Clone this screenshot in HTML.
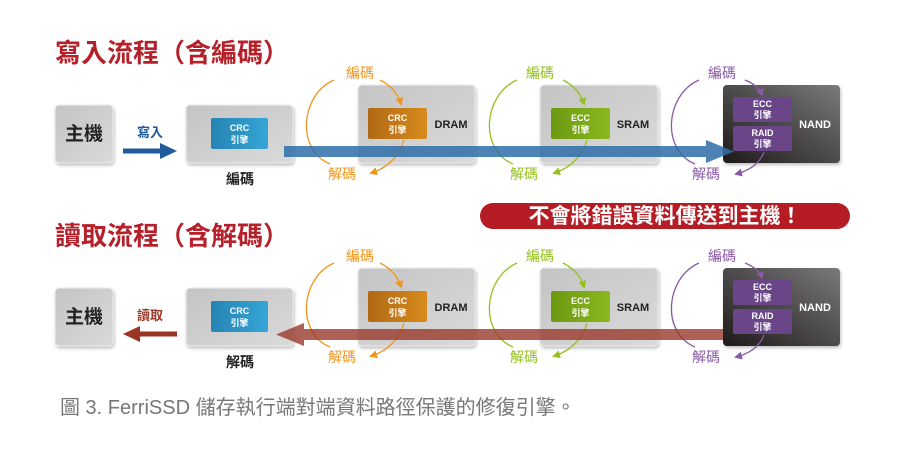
<!DOCTYPE html>
<html><head><meta charset="utf-8"><style>
html,body{margin:0;padding:0;background:#fff;}
svg{display:block;font-family:"Liberation Sans","Noto Sans CJK TC",sans-serif;}
</style></head><body>
<svg width="900" height="456" viewBox="0 0 900 456" xmlns="http://www.w3.org/2000/svg">
<defs>
<linearGradient id="gbox" x1="0" y1="0" x2="1" y2="1"><stop offset="0" stop-color="#c4c4c4"/><stop offset="1" stop-color="#dadada"/></linearGradient>
<linearGradient id="gnand" x1="0" y1="1" x2="1" y2="0"><stop offset="0" stop-color="#1e1a1a"/><stop offset="1" stop-color="#7a7a7a"/></linearGradient>
<linearGradient id="gblue" x1="0" y1="0" x2="1" y2="0"><stop offset="0" stop-color="#2684b4"/><stop offset="1" stop-color="#34a6d6"/></linearGradient>
<linearGradient id="gor" x1="0" y1="0" x2="1" y2="0"><stop offset="0" stop-color="#b06a14"/><stop offset="1" stop-color="#d88a1c"/></linearGradient>
<linearGradient id="ggr" x1="0" y1="0" x2="1" y2="0"><stop offset="0" stop-color="#6c9812"/><stop offset="1" stop-color="#8ab81e"/></linearGradient>
<filter id="sh" x="-10%" y="-10%" width="130%" height="130%"><feDropShadow dx="1" dy="2" stdDeviation="1.5" flood-color="#000" flood-opacity="0.25"/></filter>
<marker id="ao" markerWidth="8" markerHeight="8" refX="6" refY="4" orient="auto" markerUnits="userSpaceOnUse"><path d="M0,0 L8,4 L0,8 z" fill="#f0961e"/></marker>
<marker id="ag" markerWidth="8" markerHeight="8" refX="6" refY="4" orient="auto" markerUnits="userSpaceOnUse"><path d="M0,0 L8,4 L0,8 z" fill="#94c11e"/></marker>
<marker id="ap" markerWidth="8" markerHeight="8" refX="6" refY="4" orient="auto" markerUnits="userSpaceOnUse"><path d="M0,0 L8,4 L0,8 z" fill="#8a5aa6"/></marker>
<g id="row">
  <rect x="55" y="105" width="58" height="58" rx="4" fill="url(#gbox)" stroke="#eee" filter="url(#sh)"/>
  <text x="84" y="140" text-anchor="middle" font-size="19" font-weight="bold" fill="#222">主機</text>
  <rect x="186" y="105" width="107" height="58" rx="4" fill="url(#gbox)" stroke="#eee" filter="url(#sh)"/>
  <rect x="211" y="118" width="57" height="31" rx="2" fill="url(#gblue)"/>
  <text x="239.5" y="131" text-anchor="middle" font-size="9" font-weight="bold" fill="#fff">CRC</text>
  <text x="239.5" y="143" text-anchor="middle" font-size="9" font-weight="bold" fill="#fff">引擎</text>
  <rect x="358" y="85" width="117" height="78" rx="4" fill="url(#gbox)" stroke="#eee" filter="url(#sh)"/>
  <rect x="368" y="108" width="59" height="31" rx="2" fill="url(#gor)"/>
  <text x="397.5" y="121" text-anchor="middle" font-size="9" font-weight="bold" fill="#fff">CRC</text>
  <text x="397.5" y="133" text-anchor="middle" font-size="9" font-weight="bold" fill="#fff">引擎</text>
  <text x="451" y="128" text-anchor="middle" font-size="11" font-weight="bold" fill="#222">DRAM</text>
  <rect x="540" y="85" width="118" height="78" rx="4" fill="url(#gbox)" stroke="#eee" filter="url(#sh)"/>
  <rect x="551" y="108" width="59" height="31" rx="2" fill="url(#ggr)"/>
  <text x="580.5" y="121" text-anchor="middle" font-size="9" font-weight="bold" fill="#fff">ECC</text>
  <text x="580.5" y="133" text-anchor="middle" font-size="9" font-weight="bold" fill="#fff">引擎</text>
  <text x="633" y="128" text-anchor="middle" font-size="11" font-weight="bold" fill="#222">SRAM</text>
  <rect x="723" y="85" width="117" height="78" rx="4" fill="url(#gnand)" filter="url(#sh)"/>
  <rect x="733" y="97" width="59" height="25" rx="2" fill="#6a4688"/>
  <text x="762.5" y="107" text-anchor="middle" font-size="9" font-weight="bold" fill="#fff">ECC</text>
  <text x="762.5" y="118" text-anchor="middle" font-size="9" font-weight="bold" fill="#fff">引擎</text>
  <rect x="733" y="126" width="59" height="25" rx="2" fill="#6a4688"/>
  <text x="762.5" y="136" text-anchor="middle" font-size="9" font-weight="bold" fill="#fff">RAID</text>
  <text x="762.5" y="147" text-anchor="middle" font-size="9" font-weight="bold" fill="#fff">引擎</text>
  <text x="815" y="128" text-anchor="middle" font-size="11" font-weight="bold" fill="#fff">NAND</text>
  <g fill="none" stroke="#f0961e" stroke-width="1.3">
    <path d="M334,80 C300,95 296,150 330,164"/>
    <path d="M380,80 C392,86 398,94 401,104" marker-end="url(#ao)"/>
    <path d="M404,140 C400,155 388,168 371,173" marker-end="url(#ao)"/>
  </g>
  <text x="360" y="78" text-anchor="middle" font-size="14" fill="#f0961e">編碼</text>
  <text x="342" y="179" text-anchor="middle" font-size="14" fill="#f0961e">解碼</text>
  <g fill="none" stroke="#94c11e" stroke-width="1.3">
    <path d="M517,80 C483,95 479,150 513,164"/>
    <path d="M563,80 C575,86 581,94 584,104" marker-end="url(#ag)"/>
    <path d="M587,140 C583,155 571,168 554,173" marker-end="url(#ag)"/>
  </g>
  <text x="540" y="78" text-anchor="middle" font-size="14" fill="#94c11e">編碼</text>
  <text x="524" y="179" text-anchor="middle" font-size="14" fill="#94c11e">解碼</text>
  <g fill="none" stroke="#8a5aa6" stroke-width="1.3">
    <path d="M699,80 C665,95 661,150 695,164"/>
    <path d="M745,80 C755,84 760,89 762,95" marker-end="url(#ap)"/>
    <path d="M764,152 C760,162 752,170 736,174" marker-end="url(#ap)"/>
  </g>
  <text x="722" y="78" text-anchor="middle" font-size="14" fill="#8a5aa6">編碼</text>
  <text x="706" y="179" text-anchor="middle" font-size="14" fill="#8a5aa6">解碼</text>
</g>
</defs>

<text x="55" y="62" font-size="26" font-weight="bold" fill="#b5202a">寫入流程（含編碼）</text>
<use href="#row"/>
<text x="150" y="137" text-anchor="middle" font-size="13" font-weight="bold" fill="#1e5a9c">寫入</text>
<path d="M123,151 L163,151" stroke="#1e5a9c" stroke-width="5"/>
<path d="M160,143 L177,151 L160,159 z" fill="#1e5a9c"/>
<text x="240" y="184" text-anchor="middle" font-size="14" font-weight="bold" fill="#222">編碼</text>
<g opacity="0.85">
<rect x="284" y="146" width="424" height="11" fill="#2e6ea8"/>
<path d="M706,140 L734,151.5 L706,163 z" fill="#2e6ea8"/>
</g>

<rect x="480" y="203" width="370" height="26" rx="13" fill="#b51c24"/>
<text x="665" y="223" text-anchor="middle" font-size="21" font-weight="bold" fill="#fff">不會將錯誤資料傳送到主機！</text>

<text x="55" y="245" font-size="26" font-weight="bold" fill="#b5202a">讀取流程（含解碼）</text>
<use href="#row" y="183"/>
<text x="150" y="320" text-anchor="middle" font-size="13" font-weight="bold" fill="#a0382a">讀取</text>
<path d="M137,334 L177,334" stroke="#9a3424" stroke-width="5"/>
<path d="M140,326 L123,334 L140,342 z" fill="#9a3424"/>
<text x="240" y="367" text-anchor="middle" font-size="14" font-weight="bold" fill="#222">解碼</text>
<g opacity="0.8">
<rect x="302" y="329" width="421" height="11" fill="#9a3a2c"/>
<path d="M304,323 L276,334.5 L304,346 z" fill="#9a3a2c"/>
</g>

<text x="60" y="414" font-size="20" fill="#777">圖 3. FerriSSD 儲存執行端對端資料路徑保護的修復引擎。</text>
</svg>
</body></html>
